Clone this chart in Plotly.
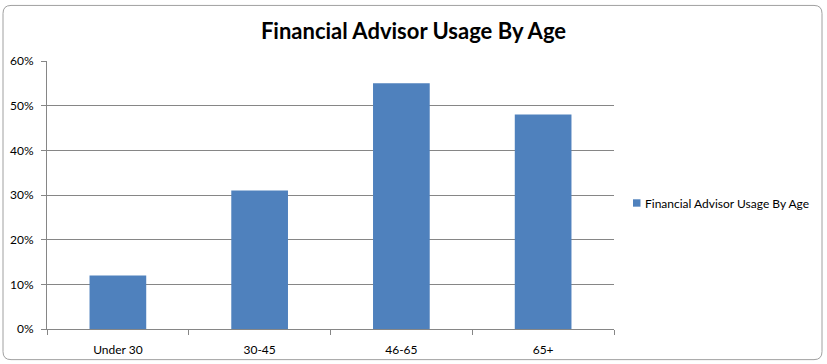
import plotly.graph_objects as go

categories = ["Under 30", "30-45", "46-65", "65+"]
values = [0.12, 0.31, 0.55, 0.48]
series_name = "Financial Advisor Usage By Age"
title_text = "Financial Advisor Usage By Age"
y_ticks = [0, 0.1, 0.2, 0.3, 0.4, 0.5, 0.6]

W, H = 827, 364
L, R, T, B = 47, 614, 60.7, 329.3
FONT = "Lato, Carlito, Calibri, sans-serif"
BAR_COLOR = "#4F81BD"

def px_x(p):
    return (p - L) / (R - L)

def px_y(p):
    return (B - p) / (B - T)

fig = go.Figure()
fig.add_trace(go.Bar(
    x=categories, y=values, name=series_name,
    marker=dict(color=BAR_COLOR, line=dict(width=0)),
    width=0.4, showlegend=False,
))

fig.update_layout(
    width=W, height=H,
    margin=dict(l=L, r=W - R, t=T, b=H - B, pad=0, autoexpand=False),
    paper_bgcolor="white", plot_bgcolor="white",
    font=dict(family=FONT, size=12, color="#000000"),
    title=dict(text=title_text, x=0.5, xanchor="center", xref="container",
               y=1 - 31 / H, yanchor="middle", yref="container",
               font=dict(size=22, family=FONT, color="black", weight="bold")),
    showlegend=False,
    bargap=0.6,
    xaxis=dict(showgrid=False, showline=True, linecolor="#868686", linewidth=1,
               ticks="outside", tickson="boundaries", ticklen=5, tickcolor="#868686",
               tickfont=dict(size=12), zeroline=False, ticklabelstandoff=10,
               automargin=False),
    yaxis=dict(range=[0, 0.6], tickvals=y_ticks, tickformat=".0%",
               showgrid=True, gridcolor="#868686", gridwidth=1,
               showline=True, linecolor="#868686", linewidth=1,
               ticks="outside", ticklen=5, tickcolor="#868686",
               tickfont=dict(size=12), zeroline=False, ticklabelstandoff=5,
               automargin=False),
    shapes=[
        dict(type="path", xref="paper", yref="paper",
             path=("M {a},{b} L {c},{b} Q {d},{b} {d},{e} L {d},{f} Q {d},{g} {c},{g} "
                   "L {a},{g} Q {h},{g} {h},{f} L {h},{e} Q {h},{b} {a},{b} Z").format(
                 a=px_x(11), c=px_x(814), d=px_x(822), h=px_x(3),
                 b=px_y(5), e=px_y(13), f=px_y(352), g=px_y(360)),
             line=dict(color="#A0A0A0", width=1), layer="below"),
        dict(type="rect", xref="paper", yref="paper",
             x0=px_x(633), x1=px_x(640.5), y0=px_y(206.7), y1=px_y(199.3),
             line=dict(width=0), fillcolor=BAR_COLOR),
    ],
    annotations=[
        dict(text=series_name, xref="paper", yref="paper",
             x=px_x(643), y=px_y(203.5), xanchor="left", yanchor="middle",
             showarrow=False, font=dict(size=12, family=FONT, color="black")),
    ],
)

fig.write_html("out.html")
